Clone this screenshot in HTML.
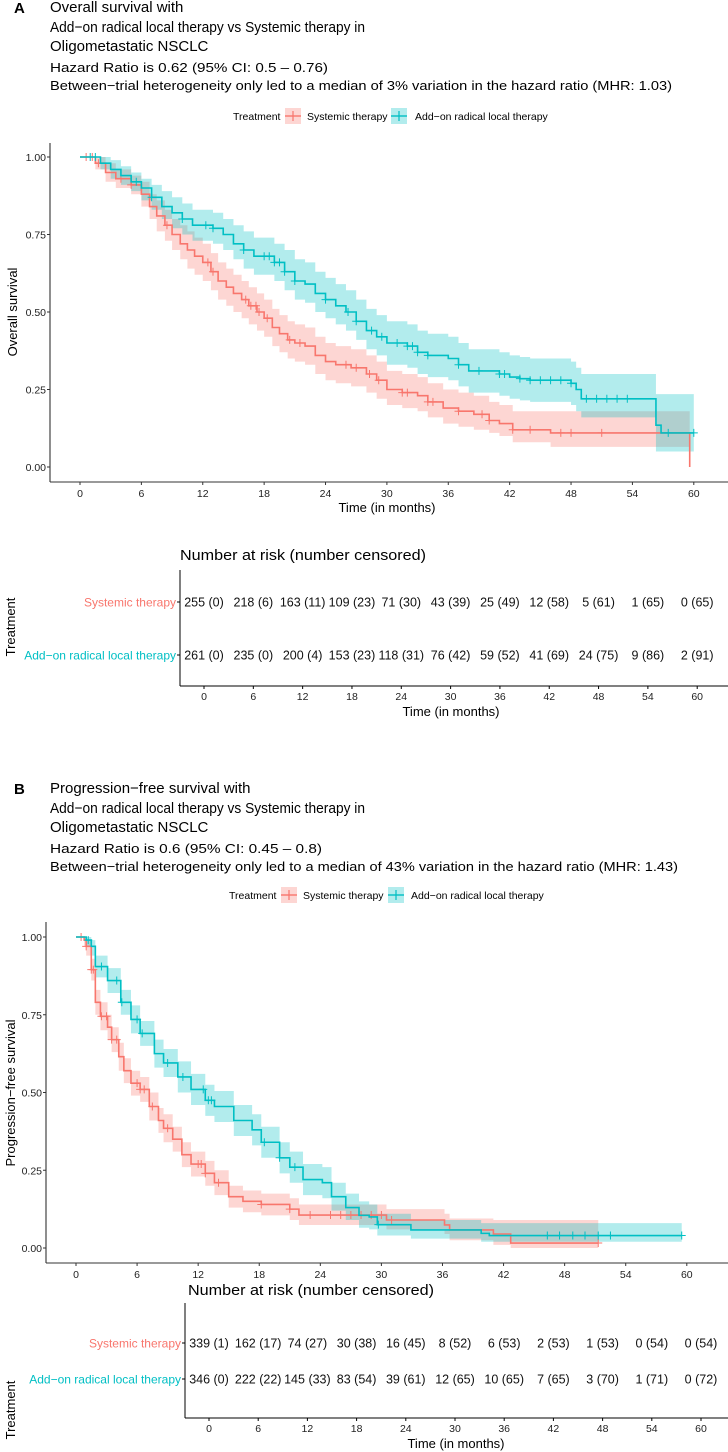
<!DOCTYPE html>
<html><head><meta charset="utf-8"><style>
html,body{margin:0;padding:0;background:#fff}
svg{display:block;font-family:"Liberation Sans",Arial,sans-serif}
</style></head><body>
<svg id="fig" width="728" height="1452" viewBox="0 0 728 1452" xmlns="http://www.w3.org/2000/svg">
<!-- Panel A titles -->
<text x="14" y="13" font-size="15" font-weight="bold" fill="#000">A</text>
<g font-size="15" fill="#000">
<text x="50" y="12">Overall survival with</text>
<text x="50" y="32" textLength="315" lengthAdjust="spacingAndGlyphs">Add−on radical local therapy vs Systemic therapy in</text>
<text x="50" y="51">Oligometastatic NSCLC</text>
<text x="50" y="72" font-size="13" textLength="278" lengthAdjust="spacingAndGlyphs">Hazard Ratio is 0.62 (95% CI: 0.5 – 0.76)</text>
<text x="50" y="90" font-size="13" textLength="622" lengthAdjust="spacingAndGlyphs">Between−trial heterogeneity only led to a median of 3% variation in the hazard ratio (MHR: 1.03)</text>
</g>
<g id="legA"></g>
<g id="plotA"></g>
<text x="0" y="0" font-size="13" text-anchor="middle" transform="translate(17,312) rotate(-90)">Overall survival</text>
<text x="387" y="512" font-size="13" text-anchor="middle">Time (in months)</text>
<text x="180" y="560" font-size="15" textLength="246" lengthAdjust="spacingAndGlyphs">Number at risk (number censored)</text>
<g id="tabA"></g>
<text x="0" y="0" font-size="13" text-anchor="middle" transform="translate(15,627) rotate(-90)">Treatment</text>
<text x="451" y="716" font-size="13" text-anchor="middle">Time (in months)</text>

<!-- Panel B titles -->
<text x="14" y="794" font-size="15" font-weight="bold" fill="#000">B</text>
<g font-size="15" fill="#000">
<text x="50" y="793">Progression−free survival with</text>
<text x="50" y="813" textLength="315" lengthAdjust="spacingAndGlyphs">Add−on radical local therapy vs Systemic therapy in</text>
<text x="50" y="832">Oligometastatic NSCLC</text>
<text x="50" y="853" font-size="13" textLength="272" lengthAdjust="spacingAndGlyphs">Hazard Ratio is 0.6 (95% CI: 0.45 – 0.8)</text>
<text x="50" y="871" font-size="13" textLength="628" lengthAdjust="spacingAndGlyphs">Between−trial heterogeneity only led to a median of 43% variation in the hazard ratio (MHR: 1.43)</text>
</g>
<g id="legB"></g>
<g id="plotB"></g>
<text x="0" y="0" font-size="13" text-anchor="middle" transform="translate(15,1093) rotate(-90)">Progression−free survival</text>
<text x="188" y="1295" font-size="15" textLength="246" lengthAdjust="spacingAndGlyphs">Number at risk (number censored)</text>
<g id="tabB"></g>
<text x="0" y="0" font-size="13" text-anchor="middle" transform="translate(15,1410) rotate(-90)">Treatment</text>
<text x="456" y="1448" font-size="13" text-anchor="middle">Time (in months)</text>
</svg>
<script>
// ---------- Panel A data ----------
var aRedT = [0,1.5,2.5,3.5,5,6,6.8,7.5,8.3,9,9.8,10.5,11.2,12,12.8,13.5,14.3,15,15.8,16.5,17.3,18,18.8,19.5,20.3,21,22,23,24,25,26.5,28,29,30,31.5,33,34,35.5,37,38.5,40,41,42.3,46,59.6];
var aRedS = [1,.98,.95,.93,.91,.88,.84,.81,.78,.75,.72,.70,.68,.66,.63,.60,.58,.56,.54,.52,.50,.48,.45,.43,.41,.40,.39,.36,.34,.33,.32,.30,.28,.25,.24,.23,.21,.19,.18,.17,.15,.14,.12,.11,0];
var aRedHi = [1,1,.98,.96,.94,.92,.88,.86,.83,.80,.78,.76,.74,.72,.69,.66,.64,.62,.60,.58,.56,.54,.51,.49,.47,.46,.45,.42,.40,.39,.38,.36,.34,.31,.30,.29,.27,.25,.24,.23,.21,.20,.18,.18,.18];
var aRedLo = [1,.96,.92,.90,.88,.84,.80,.76,.73,.70,.67,.64,.62,.60,.57,.54,.52,.50,.48,.46,.44,.42,.39,.37,.35,.34,.33,.30,.28,.27,.26,.24,.22,.20,.19,.18,.16,.14,.13,.12,.11,.10,.08,.065,.065];
var aRedCens = [0.6,1.2,1.8,4,5,8.5,12.5,13,16.2,16.7,17.2,17.5,18.3,20.5,21.5,26,27,28.3,29.2,31.5,32,34,34.5,37,39.3,40,42.3,44,47,48,51];
var aTealT = [0,2,3,4,5,6,7,8,9,10,11,12,13,14,15,16,17,18,19,20,21,22,23,24,25,26,27,28,29,30,32,33,34,36,37,38,41,42,43,44,48,48.5,49,56.3,56.8,60];
var aTealS = [1,.98,.96,.94,.92,.90,.87,.84,.82,.80,.78,.78,.77,.75,.72,.70,.68,.68,.66,.63,.60,.59,.56,.54,.52,.50,.47,.44,.42,.40,.39,.37,.36,.35,.33,.31,.30,.29,.285,.28,.27,.25,.22,.135,.11,.11];
var aTealHi = [1,1,.99,.97,.95,.93,.91,.89,.87,.85,.83,.83,.82,.80,.78,.76,.74,.74,.72,.70,.67,.66,.63,.61,.59,.57,.54,.51,.49,.47,.46,.44,.43,.42,.40,.38,.37,.36,.355,.35,.34,.32,.30,.235,.235,.235];
var aTealLo = [1,.96,.93,.91,.89,.86,.83,.80,.77,.75,.73,.73,.72,.70,.67,.64,.62,.62,.60,.57,.54,.53,.50,.48,.46,.44,.41,.38,.36,.33,.32,.30,.29,.28,.26,.24,.23,.22,.215,.21,.20,.18,.16,.05,.05,.05];
var aTealCens = [1,1.5,5.5,7,10,12.3,13,16,18,18.5,19,19.5,20,21,24,26.2,27,28.5,29.5,31,32,32.5,33,34,37,39,41,41.5,43,44,45,46,47,48,49.5,50.5,51.5,52.5,53.5,57.5,60];
var yTicks = [0,0.25,0.5,0.75,1];
var yTickLabels = ["0.00","0.25","0.50","0.75","1.00"];
var xTicks = [0,6,12,18,24,30,36,42,48,54,60];
var aRiskRed = ["255 (0)","218 (6)","163 (11)","109 (23)","71 (30)","43 (39)","25 (49)","12 (58)","5 (61)","1 (65)","0 (65)"];
var aRiskTeal = ["261 (0)","235 (0)","200 (4)","153 (23)","118 (31)","76 (42)","59 (52)","41 (69)","24 (75)","9 (86)","2 (91)"];
// ---------- Panel B data ----------
var bRedT = [0,0.8,1,1.5,1.9,2.4,3.1,3.5,4.2,4.7,5.4,6.3,7.2,8.1,8.6,9.5,10.4,11.3,12.7,13.6,15,16.4,18.2,21,21.9,30.5,36.2,36.7,41,42.7,51.3];
var bRedS = [1,.99,.97,.895,.79,.745,.71,.67,.615,.57,.53,.51,.455,.41,.385,.35,.30,.27,.24,.21,.165,.15,.14,.125,.106,.09,.074,.058,.045,.016,.016];
var bRedHi = [1,1,.99,.93,.83,.79,.75,.71,.66,.61,.57,.55,.5,.45,.43,.39,.34,.31,.28,.25,.2,.185,.175,.16,.14,.125,.11,.095,.09,.09,.09];
var bRedLo = [1,.97,.94,.86,.75,.70,.67,.63,.57,.53,.49,.47,.41,.37,.34,.31,.26,.23,.20,.17,.13,.115,.105,.09,.074,.06,.045,.025,.01,0,0];
var bRedCens = [0.5,1,1.5,1.7,2.5,3,3.5,4,6,6.3,6.7,7.5,9,12,12.3,12.7,14,18.2,21,23,25,26,27,28,29,30,31,51.3];
var bTealT = [0,1,1.5,1.9,3.1,4.4,5.4,6.3,7.7,8.6,10,11.3,12.7,13.6,15.5,17.3,18.2,20,21,22.3,24.2,25.1,26.5,27.8,28.8,29.6,32.9,39.8,40.6,59.5];
var bTealS = [1,.99,.97,.905,.86,.79,.735,.69,.625,.595,.55,.51,.475,.455,.41,.38,.34,.29,.26,.22,.21,.165,.13,.105,.1,.075,.058,.047,.04,.04];
var bTealHi = [1,1,.99,.94,.90,.83,.78,.73,.67,.64,.60,.56,.525,.505,.46,.43,.39,.34,.31,.27,.26,.21,.175,.15,.14,.11,.09,.08,.08,.08];
var bTealLo = [1,.97,.94,.87,.82,.75,.69,.65,.58,.55,.50,.46,.425,.405,.36,.33,.29,.24,.21,.17,.16,.12,.09,.065,.06,.04,.03,.02,.02,.02];
var bTealCens = [1.2,2.5,4,4.5,6,6.5,9,10.5,12.5,13,13.3,18.5,20,21.5,29.7,46.3,47.5,48.8,50,51.3,52.5,59.5];
var bRiskRed = ["339 (1)","162 (17)","74 (27)","30 (38)","16 (45)","8 (52)","6 (53)","2 (53)","1 (53)","0 (54)","0 (54)"];
var bRiskTeal = ["346 (0)","222 (22)","145 (33)","83 (54)","39 (61)","12 (65)","10 (65)","7 (65)","3 (70)","1 (71)","0 (72)"];

var NS = "http://www.w3.org/2000/svg";
var RED = "#F8766D", TEAL = "#00BFC4", AX = "#333";
function mk(parent, tag, attrs, text) {
  var e = document.createElementNS(NS, tag);
  for (var k in attrs) e.setAttribute(k, attrs[k]);
  if (text !== undefined) e.textContent = text;
  parent.appendChild(e);
  return e;
}
function stepAt(T, S, t) { var v = S[0]; for (var i = 0; i < T.length; i++) { if (T[i] <= t) v = S[i]; } return v; }

function legend(g, x0, y, pos) {
  var t = mk(g, "text", {x: pos[0], y: y + 4, "font-size": 10.5});
  t.textContent = "Treatment";
  
  
  var items = [[pos[1], RED, "Systemic therapy", pos[2]], [pos[3], TEAL, "Add−on radical local therapy", pos[4]]];
  items.forEach(function (it, i) {
    var k = mk(g, "g", {});
    
    
    mk(k, "rect", {x: it[0], y: y - 8, width: 16, height: 16, fill: it[1], "fill-opacity": 0.3});
    mk(k, "line", {x1: it[0], x2: it[0] + 16, y1: y, y2: y, stroke: it[1], "stroke-width": 1.4});
    mk(k, "line", {x1: it[0] + 8, x2: it[0] + 8, y1: y - 5, y2: y + 5, stroke: it[1], "stroke-width": 1.2});
    var lt = mk(g, "text", {x: it[3], y: y + 4, "font-size": 10.5}, it[2]);
    
    
  });
}

function kmPlot(g, cfg) {
  var xs = function (m) { return cfg.x0 + m * cfg.px; };
  var ys = function (s) { return cfg.y0 - s * (cfg.y0 - cfg.y1); };
  var ya = mk(g, "line", {x1: cfg.ax, x2: cfg.ax, y1: cfg.top, y2: cfg.bot, stroke: AX, "stroke-width": 1.1});
  
  
  var xa = mk(g, "line", {x1: cfg.ax, x2: cfg.right, y1: cfg.bot, y2: cfg.bot, stroke: AX, "stroke-width": 1.1});
  
  
  yTicks.forEach(function (v, i) {
    mk(g, "line", {x1: cfg.ax - 3, x2: cfg.ax, y1: ys(v), y2: ys(v), stroke: AX});
    var t = mk(g, "text", {x: cfg.ax - 4, y: ys(v) + 4, "font-size": 10.5, "text-anchor": "end", fill: "#222"}, yTickLabels[i]);
    
    
  });
  xTicks.forEach(function (v) {
    mk(g, "line", {x1: xs(v), x2: xs(v), y1: cfg.bot, y2: cfg.bot + 3, stroke: AX});
    var t = mk(g, "text", {x: xs(v), y: cfg.bot + 15, "font-size": 10.5, "text-anchor": "middle", fill: "#222"}, String(v));
    
    
  });
  cfg.series.forEach(function (s) {
    var T = s.T, H = s.hi, L = s.lo, n = T.length;
    var up = "", dn = [];
    for (var i = 0; i < n - 1; i++) {
      up += (i === 0 ? "M" : "L") + xs(T[i]) + " " + ys(H[i]) + " L" + xs(T[i + 1]) + " " + ys(H[i]) + " ";
      dn.unshift("L" + xs(T[i + 1]) + " " + ys(L[i]) + " L" + xs(T[i]) + " " + ys(L[i]) + " ");
    }
    var band = mk(g, "path", {d: up + dn.join("") + "Z", fill: s.col, "fill-opacity": 0.3, stroke: "none"});
    
    
  });
  cfg.series.forEach(function (s) {
    var T = s.T, S = s.S, n = T.length;
    var d = "M" + xs(T[0]) + " " + ys(S[0]);
    for (var i = 1; i < n; i++) d += " H" + xs(T[i]) + " V" + ys(S[i]);
    var p = mk(g, "path", {d: d, fill: "none", stroke: s.col, "stroke-width": 1.6});
    
    
    s.C.forEach(function (c) {
      var cx = xs(c), cy = ys(stepAt(T, S, c));
      var m = mk(g, "path", {d: "M" + (cx - 4) + " " + cy + " H" + (cx + 4) + " M" + cx + " " + (cy - 4) + " V" + (cy + 4), stroke: s.col, "stroke-width": 1});
      
      
    });
  });
}

function riskTable(g, cfg, redVals, tealVals) {
  var xs = function (m) { return cfg.x0 + m * cfg.px; };
  var ya = mk(g, "line", {x1: cfg.ax, x2: cfg.ax, y1: cfg.top, y2: cfg.bot, stroke: "#000", "stroke-width": 1});
  
  
  var xa = mk(g, "line", {x1: cfg.ax, x2: 728, y1: cfg.bot, y2: cfg.bot, stroke: "#000", "stroke-width": 1});
  
  
  var rows = [[cfg.r1, RED, "Systemic therapy", redVals], [cfg.r2, TEAL, "Add−on radical local therapy", tealVals]];
  rows.forEach(function (r, ri) {
    mk(g, "line", {x1: cfg.ax - 3, x2: cfg.ax, y1: r[0], y2: r[0], stroke: "#000"});
    var lab = mk(g, "text", {x: cfg.ax - 4, y: r[0] + 4.5, "font-size": 12, "text-anchor": "end", fill: r[1]}, r[2]);
    
    
    xTicks.forEach(function (v, i) {
      var t = mk(g, "text", {x: xs(v), y: r[0] + 4.5, "font-size": 12.5, "text-anchor": "middle", fill: "#111"}, r[3][i]);
      
      
    });
  });
  xTicks.forEach(function (v) {
    mk(g, "line", {x1: xs(v), x2: xs(v), y1: cfg.bot, y2: cfg.bot + 3, stroke: "#000"});
    var t = mk(g, "text", {x: xs(v), y: cfg.bot + 14, "font-size": 10.5, "text-anchor": "middle", fill: "#222"}, String(v));
    
    
  });
}

legend(document.getElementById("legA"), 0, 116, [233, 285, 307, 391, 415]);
legend(document.getElementById("legB"), 0, 895, [229, 281, 303, 388, 411]);

kmPlot(document.getElementById("plotA"), {x0: 80, px: 10.23, y0: 467, y1: 157, ax: 50, top: 143, bot: 482, right: 728,
  series: [
    {name: "systemic", col: RED, T: aRedT, S: aRedS, hi: aRedHi, lo: aRedLo, C: aRedCens},
    {name: "radical", col: TEAL, T: aTealT, S: aTealS, hi: aTealHi, lo: aTealLo, C: aTealCens}]});
kmPlot(document.getElementById("plotB"), {x0: 76, px: 10.18, y0: 1248, y1: 937, ax: 46, top: 922, bot: 1263, right: 728,
  series: [
    {name: "systemic", col: RED, T: bRedT, S: bRedS, hi: bRedHi, lo: bRedLo, C: bRedCens},
    {name: "radical", col: TEAL, T: bTealT, S: bTealS, hi: bTealHi, lo: bTealLo, C: bTealCens}]});

riskTable(document.getElementById("tabA"), {x0: 204, px: 8.22, ax: 180, top: 570, bot: 686, r1: 602, r2: 655}, aRiskRed, aRiskTeal);
riskTable(document.getElementById("tabB"), {x0: 209, px: 8.2, ax: 185, top: 1303, bot: 1418, r1: 1343, r2: 1379}, bRiskRed, bRiskTeal);
</script>
</body></html>
